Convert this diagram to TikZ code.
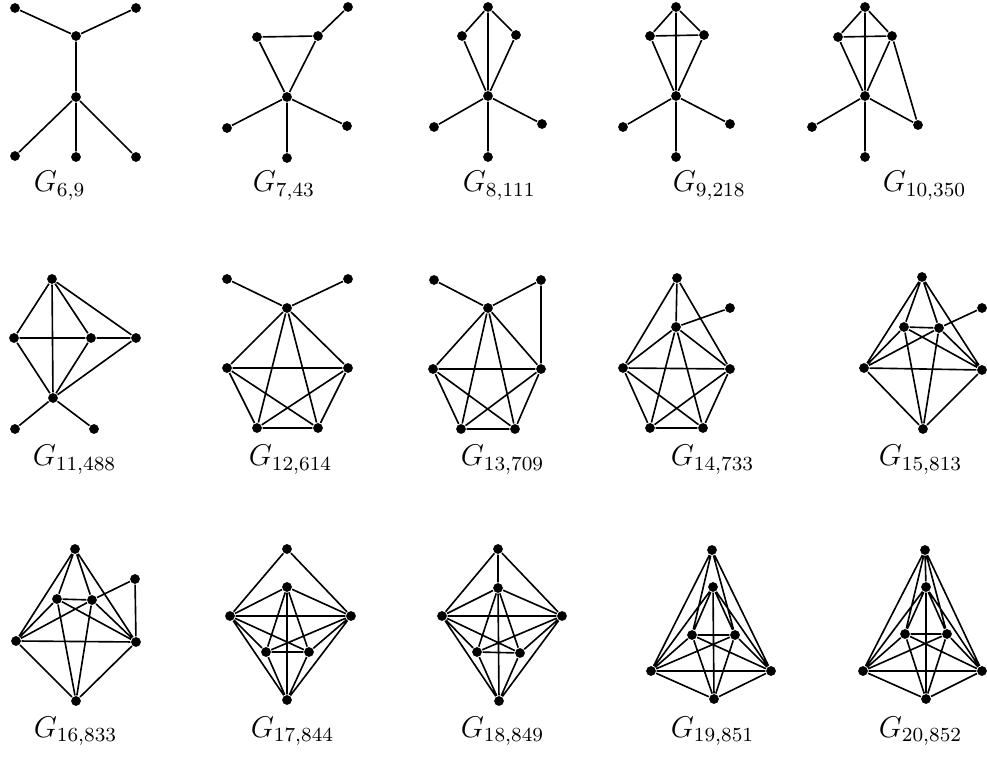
\documentclass[tikz,border=0pt]{standalone}
\begin{document}
\begin{tikzpicture}[x=0.4pt,y=-0.4pt,
  v/.style={circle,fill=black,inner sep=0pt,minimum size=3.9pt},
  every path/.style={line width=0.65pt},
  lab/.style={anchor=base west,inner sep=0pt,font=\fontsize{12}{14}\selectfont}]
\useasboundingbox (0,0) rectangle (987,772);
% G6,9
\node[v] (a1) at (15,8) {}; \node[v] (a2) at (136,8) {}; \node[v] (a3) at (76,36) {};
\node[v] (a4) at (76,97) {}; \node[v] (a5) at (15,156) {}; \node[v] (a6) at (76,157) {};
\node[v] (a7) at (136,157) {};
\draw (a1)--(a3) (a2)--(a3) (a3)--(a4) (a4)--(a5) (a4)--(a6) (a4)--(a7);
% G7,43
\node[v] (b1) at (348,7) {}; \node[v] (b2) at (257,37) {}; \node[v] (b3) at (318,36) {};
\node[v] (b4) at (287,97) {}; \node[v] (b5) at (227,128) {}; \node[v] (b6) at (347,126) {};
\node[v] (b7) at (287,158) {};
\draw (b2)--(b3) (b2)--(b4) (b3)--(b4) (b3)--(b1) (b4)--(b5) (b4)--(b6) (b4)--(b7);
% G8,111
\node[v] (c1) at (488,7) {}; \node[v] (c2) at (462,36) {}; \node[v] (c3) at (516,35) {};
\node[v] (c4) at (488,96) {}; \node[v] (c5) at (434,127) {}; \node[v] (c6) at (542,124) {};
\node[v] (c7) at (488,157) {};
\draw (c1)--(c2) (c1)--(c3) (c1)--(c4) (c2)--(c4) (c3)--(c4) (c4)--(c5) (c4)--(c6) (c4)--(c7);
% G9,218
\node[v] (d1) at (676,7) {}; \node[v] (d2) at (650,36) {}; \node[v] (d3) at (704,35) {};
\node[v] (d4) at (676,96) {}; \node[v] (d5) at (623,127) {}; \node[v] (d6) at (730,124) {};
\node[v] (d7) at (676,157) {};
\draw (d1)--(d2) (d1)--(d3) (d1)--(d4) (d2)--(d3) (d2)--(d4) (d3)--(d4) (d4)--(d5) (d4)--(d6) (d4)--(d7);
% G10,350
\node[v] (f1) at (865,7) {}; \node[v] (f2) at (838,37) {}; \node[v] (f3) at (892,36) {};
\node[v] (f4) at (865,96) {}; \node[v] (f5) at (812,127) {}; \node[v] (f6) at (918,125) {};
\node[v] (f7) at (865,157) {};
\draw (f1)--(f2) (f1)--(f3) (f1)--(f4) (f2)--(f3) (f2)--(f4) (f3)--(f4) (f3)--(f6) (f4)--(f5) (f4)--(f6) (f4)--(f7);
% G11,488
\node[v] (g1) at (52,279) {}; \node[v] (g2) at (14,338) {}; \node[v] (g3) at (91,338) {};
\node[v] (g4) at (136,338) {}; \node[v] (g5) at (53,398) {}; \node[v] (g6) at (15,429) {};
\node[v] (g7) at (94,429) {};
\draw (g1)--(g2) (g1)--(g5) (g1)--(g3) (g1)--(g4) (g2)--(g3) (g3)--(g4) (g2)--(g5) (g3)--(g5) (g4)--(g5) (g5)--(g6) (g5)--(g7);
% G12,614
\node[v] (h1) at (227,279) {}; \node[v] (h2) at (348,279) {}; \node[v] (h3) at (287,308) {};
\node[v] (h4) at (227,368) {}; \node[v] (h5) at (348,368) {}; \node[v] (h6) at (257,428) {};
\node[v] (h7) at (318,428) {};
\draw (h1)--(h3) (h2)--(h3) (h3)--(h4) (h3)--(h5) (h3)--(h6) (h3)--(h7) (h4)--(h5) (h4)--(h6) (h4)--(h7) (h5)--(h6) (h5)--(h7) (h6)--(h7);
% G13,709
\node[v] (k1) at (434,280) {}; \node[v] (k2) at (541,280) {}; \node[v] (k3) at (488,308) {};
\node[v] (k4) at (433,369) {}; \node[v] (k5) at (541,369) {}; \node[v] (k6) at (461,429) {};
\node[v] (k7) at (515,429) {};
\draw (k1)--(k3) (k2)--(k3) (k2)--(k5) (k3)--(k4) (k3)--(k5) (k3)--(k6) (k3)--(k7) (k4)--(k5) (k4)--(k6) (k4)--(k7) (k5)--(k6) (k5)--(k7) (k6)--(k7);
% G14,733
\node[v] (m1) at (677,278) {}; \node[v] (m2) at (676,327) {}; \node[v] (m3) at (730,308) {};
\node[v] (m4) at (623,368) {}; \node[v] (m5) at (730,369) {}; \node[v] (m6) at (650,428) {};
\node[v] (m7) at (703,428) {};
\draw (m1)--(m2) (m1)--(m4) (m1)--(m5) (m2)--(m3) (m2)--(m4) (m2)--(m5) (m2)--(m6) (m2)--(m7) (m4)--(m5) (m4)--(m6) (m4)--(m7) (m5)--(m6) (m5)--(m7) (m6)--(m7);
% G15,813
\node[v] (n1) at (922,277) {}; \node[v] (n2) at (982,308) {}; \node[v] (n3) at (904,327) {};
\node[v] (n4) at (939,328) {}; \node[v] (n5) at (864,368) {}; \node[v] (n6) at (982,370) {};
\node[v] (n7) at (923,429) {};
\draw (n1)--(n5) (n1)--(n3) (n1)--(n4) (n1)--(n6) (n3)--(n4) (n3)--(n5) (n3)--(n6) (n3)--(n7) (n4)--(n6) (n4)--(n7) (n5)--(n6) (n5)--(n7) (n6)--(n7) (n5)--(n4) (n4)--(n2);
% G16,833
\node[v] (o1) at (75,549) {}; \node[v] (o2) at (135,579) {}; \node[v] (o3) at (57,599) {};
\node[v] (o4) at (92,600) {}; \node[v] (o5) at (16,641) {}; \node[v] (o6) at (136,642) {};
\node[v] (o7) at (76,701) {};
\draw (o1)--(o5) (o1)--(o3) (o1)--(o4) (o1)--(o6) (o3)--(o4) (o3)--(o5) (o3)--(o6) (o3)--(o7) (o4)--(o6) (o4)--(o7) (o5)--(o6) (o5)--(o7) (o6)--(o7) (o5)--(o4) (o4)--(o2) (o2)--(o6);
% G17,844
\node[v] (q1) at (287,549) {}; \node[v] (q2) at (287,587) {}; \node[v] (q3) at (230,616) {};
\node[v] (q4) at (351,616) {}; \node[v] (q5) at (266,652) {}; \node[v] (q6) at (309,652) {};
\node[v] (q7) at (287,700) {};
\draw (q1)--(q3) (q1)--(q4) (q2)--(q3) (q2)--(q4) (q2)--(q5) (q2)--(q6) (q2)--(q7) (q3)--(q4) (q3)--(q6) (q4)--(q5) (q5)--(q6) (q3)--(q5) (q4)--(q6) (q3)--(q7) (q4)--(q7) (q5)--(q7) (q6)--(q7);
% G18,849
\node[v] (r1) at (498,549) {}; \node[v] (r2) at (498,588) {}; \node[v] (r3) at (442,616) {};
\node[v] (r4) at (562,616) {}; \node[v] (r5) at (477,652) {}; \node[v] (r6) at (520,653) {};
\node[v] (r7) at (499,701) {};
\draw (r1)--(r2) (r1)--(r3) (r1)--(r4) (r2)--(r3) (r2)--(r4) (r2)--(r5) (r2)--(r6) (r2)--(r7) (r3)--(r4) (r3)--(r6) (r4)--(r5) (r5)--(r6) (r3)--(r5) (r4)--(r6) (r3)--(r7) (r4)--(r7) (r5)--(r7) (r6)--(r7);
% G19,851
\node[v] (s1) at (712,550) {}; \node[v] (s2) at (713,587) {}; \node[v] (s3) at (692,635) {};
\node[v] (s4) at (735,635) {}; \node[v] (s5) at (651,671) {}; \node[v] (s6) at (771,671) {};
\node[v] (s7) at (714,699) {};
\draw (s1)--(s5) (s1)--(s6) (s1)--(s3) (s1)--(s4) (s2)--(s3) (s2)--(s4) (s2)--(s7) (s2)--(s5) (s2)--(s6) (s3)--(s4) (s5)--(s6) (s5)--(s4) (s6)--(s3) (s3)--(s7) (s4)--(s7) (s5)--(s7) (s6)--(s7) (s5)--(s3) (s6)--(s4);
% G20,852
\node[v] (t1) at (925,550) {}; \node[v] (t2) at (926,587) {}; \node[v] (t3) at (905,634) {};
\node[v] (t4) at (947,634) {}; \node[v] (t5) at (863,671) {}; \node[v] (t6) at (982,671) {};
\node[v] (t7) at (926,699) {};
\draw (t1)--(t2) (t1)--(t5) (t1)--(t6) (t1)--(t3) (t1)--(t4) (t2)--(t3) (t2)--(t4) (t2)--(t7) (t2)--(t5) (t2)--(t6) (t3)--(t4) (t5)--(t6) (t5)--(t4) (t6)--(t3) (t3)--(t7) (t4)--(t7) (t5)--(t7) (t6)--(t7) (t5)--(t3) (t6)--(t4);
% labels
\node[lab] (L1) at (33,192) {$G_{6,9}$};
\node[lab] (L2) at (252,192) {$G_{7,43}$};
\node[lab] (L3) at (462,192) {$G_{8,111}$};
\node[lab] (L4) at (672,192) {$G_{9,218}$};
\node[lab] (L5) at (882,192) {$G_{10,350}$};
\node[lab] (L6) at (32,466) {$G_{11,488}$};
\node[lab] (L7) at (248,466) {$G_{12,614}$};
\node[lab] (L8) at (460,466) {$G_{13,709}$};
\node[lab] (L9) at (670,466) {$G_{14,733}$};
\node[lab] (L10) at (878,466) {$G_{15,813}$};
\node[lab] (L11) at (33,737) {$G_{16,833}$};
\node[lab] (L12) at (250,737) {$G_{17,844}$};
\node[lab] (L13) at (460,737) {$G_{18,849}$};
\node[lab] (L14) at (670,737) {$G_{19,851}$};
\node[lab] (L15) at (878,737) {$G_{20,852}$};
\end{tikzpicture}
\end{document}
